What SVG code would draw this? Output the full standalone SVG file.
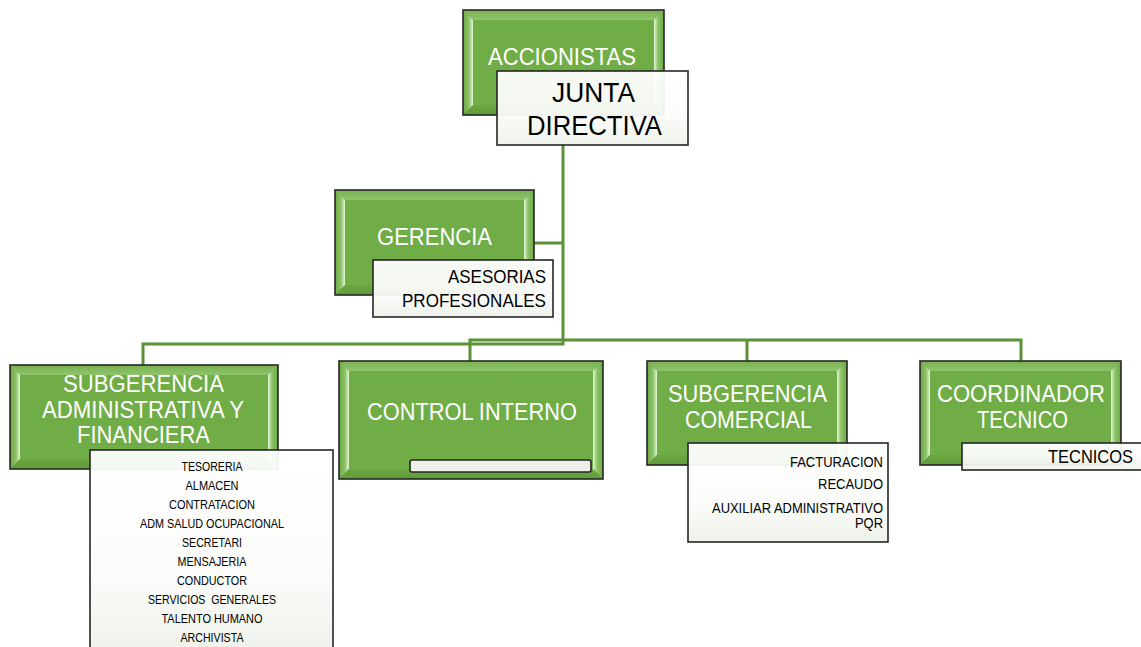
<svg xmlns="http://www.w3.org/2000/svg" width="1141" height="647" viewBox="0 0 1141 647">
<style>
.base{fill:#70ad47}
.bt{fill:url(#bevT)}
.bl{fill:url(#bevL)}
.br{fill:url(#bevR)}
.bb{fill:url(#bevB)}
.edge{fill:none;stroke:#262626;stroke-width:1.6}
.wbox{fill:url(#wg);fill-opacity:0.94;stroke:#262626;stroke-width:1.6}
.conn{fill:none;stroke:#5b9236;stroke-width:3}
.gt{font-family:"Liberation Sans",Arial,sans-serif;font-size:24px;fill:#ffffff}
.bk{font-family:"Liberation Sans",Arial,sans-serif;fill:#000000}
.jt{font-size:28px}
.md{font-size:17.5px}
.sm{font-size:15.5px}
.xs{font-size:13.5px}
</style>
<defs>
<linearGradient id="bevL" x1="0" y1="0" x2="1" y2="0"><stop offset="0" stop-color="#6ca843"/><stop offset="0.6" stop-color="#8cc367"/><stop offset="0.85" stop-color="#c4e4ad"/><stop offset="1" stop-color="#e8f6dd"/></linearGradient>
<linearGradient id="bevR" x1="1" y1="0" x2="0" y2="0"><stop offset="0" stop-color="#6ca843"/><stop offset="0.6" stop-color="#8cc367"/><stop offset="0.85" stop-color="#c4e4ad"/><stop offset="1" stop-color="#e8f6dd"/></linearGradient>
<linearGradient id="bevT" x1="0" y1="0" x2="0" y2="1"><stop offset="0" stop-color="#78b150"/><stop offset="1" stop-color="#8fc46c"/></linearGradient>
<linearGradient id="bevB" x1="0" y1="0" x2="0" y2="1"><stop offset="0" stop-color="#6ba642"/><stop offset="1" stop-color="#619c39"/></linearGradient>
<linearGradient id="wg" x1="0" y1="0" x2="0" y2="1"><stop offset="0" stop-color="#ffffff"/><stop offset="0.6" stop-color="#fbfcfa"/><stop offset="1" stop-color="#edf1ea"/></linearGradient>
</defs>

<g id="connectors">
<polyline class="conn" points="563,145 563,344 143,344 143,365"/>
<polyline class="conn" points="470,361 470,340 1021,340 1021,361"/>
<line class="conn" x1="747" y1="340" x2="747" y2="361"/>
<line class="conn" x1="534" y1="243" x2="563" y2="243"/>
</g>

<g id="accionistas">
<rect class="base" x="463" y="10" width="201" height="105"/>
<polygon class="bt" points="463,10 664,10 654,20 473,20"/>
<polygon class="bl" points="463,10 473,20 473,105 463,115"/>
<polygon class="br" points="664,10 664,115 654,105 654,20"/>
<polygon class="bb" points="463,115 473,105 654,105 664,115"/>
<rect class="edge" x="463" y="10" width="201" height="105"/>
<text class="gt" x="488" y="65" textLength="148" lengthAdjust="spacingAndGlyphs">ACCIONISTAS</text>
</g>

<g id="junta-directiva">
<rect class="wbox" x="497" y="71" width="191" height="74"/>
<text class="bk jt" x="552" y="102" textLength="83" lengthAdjust="spacingAndGlyphs">JUNTA</text>
<text class="bk jt" x="527" y="135" textLength="135" lengthAdjust="spacingAndGlyphs">DIRECTIVA</text>
</g>

<g id="gerencia">
<rect class="base" x="335" y="190" width="199" height="105"/>
<polygon class="bt" points="335,190 534,190 524,200 345,200"/>
<polygon class="bl" points="335,190 345,200 345,285 335,295"/>
<polygon class="br" points="534,190 534,295 524,285 524,200"/>
<polygon class="bb" points="335,295 345,285 524,285 534,295"/>
<rect class="edge" x="335" y="190" width="199" height="105"/>
<text class="gt" x="377" y="245" textLength="115" lengthAdjust="spacingAndGlyphs">GERENCIA</text>
</g>

<g id="asesorias">
<rect class="wbox" x="373" y="260" width="180" height="57"/>
<text class="bk md" x="448" y="283" textLength="98" lengthAdjust="spacingAndGlyphs">ASESORIAS</text>
<text class="bk md" x="402" y="307" textLength="144" lengthAdjust="spacingAndGlyphs">PROFESIONALES</text>
</g>

<g id="subgerencia-administrativa">
<rect class="base" x="10" y="365" width="268" height="104"/>
<polygon class="bt" points="10,365 278,365 268,375 20,375"/>
<polygon class="bl" points="10,365 20,375 20,459 10,469"/>
<polygon class="br" points="278,365 278,469 268,459 268,375"/>
<polygon class="bb" points="10,469 20,459 268,459 278,469"/>
<rect class="edge" x="10" y="365" width="268" height="104"/>
<text class="gt" x="63" y="392" textLength="161" lengthAdjust="spacingAndGlyphs">SUBGERENCIA</text>
<text class="gt" x="42" y="418" textLength="202" lengthAdjust="spacingAndGlyphs">ADMINISTRATIVA Y</text>
<text class="gt" x="77" y="443" textLength="133" lengthAdjust="spacingAndGlyphs">FINANCIERA</text>
</g>

<g id="lista-administrativa">
<rect class="wbox" x="90" y="450" width="243" height="205"/>
<text class="bk xs" x="181.5" y="471" textLength="61" lengthAdjust="spacingAndGlyphs">TESORERIA</text>
<text class="bk xs" x="185.5" y="490" textLength="53" lengthAdjust="spacingAndGlyphs">ALMACEN</text>
<text class="bk xs" x="169" y="509" textLength="86" lengthAdjust="spacingAndGlyphs">CONTRATACION</text>
<text class="bk xs" x="140" y="528" textLength="144" lengthAdjust="spacingAndGlyphs">ADM SALUD OCUPACIONAL</text>
<text class="bk xs" x="182" y="547" textLength="60" lengthAdjust="spacingAndGlyphs">SECRETARI</text>
<text class="bk xs" x="177.5" y="566" textLength="69" lengthAdjust="spacingAndGlyphs">MENSAJERIA</text>
<text class="bk xs" x="177" y="585" textLength="70" lengthAdjust="spacingAndGlyphs">CONDUCTOR</text>
<text class="bk xs" x="148" y="604" textLength="128" lengthAdjust="spacingAndGlyphs" xml:space="preserve">SERVICIOS  GENERALES</text>
<text class="bk xs" x="161.5" y="623" textLength="101" lengthAdjust="spacingAndGlyphs">TALENTO HUMANO</text>
<text class="bk xs" x="180.5" y="642" textLength="63" lengthAdjust="spacingAndGlyphs">ARCHIVISTA</text>
</g>

<g id="control-interno">
<rect class="base" x="339" y="361" width="264" height="118"/>
<polygon class="bt" points="339,361 603,361 593,371 349,371"/>
<polygon class="bl" points="339,361 349,371 349,469 339,479"/>
<polygon class="br" points="603,361 603,479 593,469 593,371"/>
<polygon class="bb" points="339,479 349,469 593,469 603,479"/>
<rect class="edge" x="339" y="361" width="264" height="118"/>
<text class="gt" x="367" y="420" textLength="210" lengthAdjust="spacingAndGlyphs">CONTROL INTERNO</text>
<rect x="410" y="460" width="181" height="12" rx="2" fill="#ecf0e8" stroke="#262626" stroke-width="1.6"/>
</g>

<g id="subgerencia-comercial">
<rect class="base" x="647" y="361" width="200" height="104"/>
<polygon class="bt" points="647,361 847,361 837,371 657,371"/>
<polygon class="bl" points="647,361 657,371 657,455 647,465"/>
<polygon class="br" points="847,361 847,465 837,455 837,371"/>
<polygon class="bb" points="647,465 657,455 837,455 847,465"/>
<rect class="edge" x="647" y="361" width="200" height="104"/>
<text class="gt" x="668" y="402" textLength="159" lengthAdjust="spacingAndGlyphs">SUBGERENCIA</text>
<text class="gt" x="685" y="428" textLength="127" lengthAdjust="spacingAndGlyphs">COMERCIAL</text>
</g>

<g id="lista-comercial">
<rect class="wbox" x="688" y="443" width="200" height="99"/>
<text class="bk sm" x="790" y="467" textLength="93" lengthAdjust="spacingAndGlyphs">FACTURACION</text>
<text class="bk sm" x="818" y="489" textLength="65" lengthAdjust="spacingAndGlyphs">RECAUDO</text>
<text class="bk sm" x="712" y="513" textLength="171" lengthAdjust="spacingAndGlyphs">AUXILIAR ADMINISTRATIVO</text>
<text class="bk sm" x="855" y="528" textLength="28" lengthAdjust="spacingAndGlyphs">PQR</text>
</g>

<g id="coordinador-tecnico">
<rect class="base" x="920" y="361" width="201" height="104"/>
<polygon class="bt" points="920,361 1121,361 1111,371 930,371"/>
<polygon class="bl" points="920,361 930,371 930,455 920,465"/>
<polygon class="br" points="1121,361 1121,465 1111,455 1111,371"/>
<polygon class="bb" points="920,465 930,455 1111,455 1121,465"/>
<rect class="edge" x="920" y="361" width="201" height="104"/>
<text class="gt" x="937" y="402" textLength="168" lengthAdjust="spacingAndGlyphs">COORDINADOR</text>
<text class="gt" x="977" y="428" textLength="91" lengthAdjust="spacingAndGlyphs">TECNICO</text>
</g>

<g id="tecnicos">
<rect class="wbox" x="962" y="443" width="185" height="27"/>
<text class="bk md" x="1048" y="463" textLength="85" lengthAdjust="spacingAndGlyphs">TECNICOS</text>
</g>
</svg>
